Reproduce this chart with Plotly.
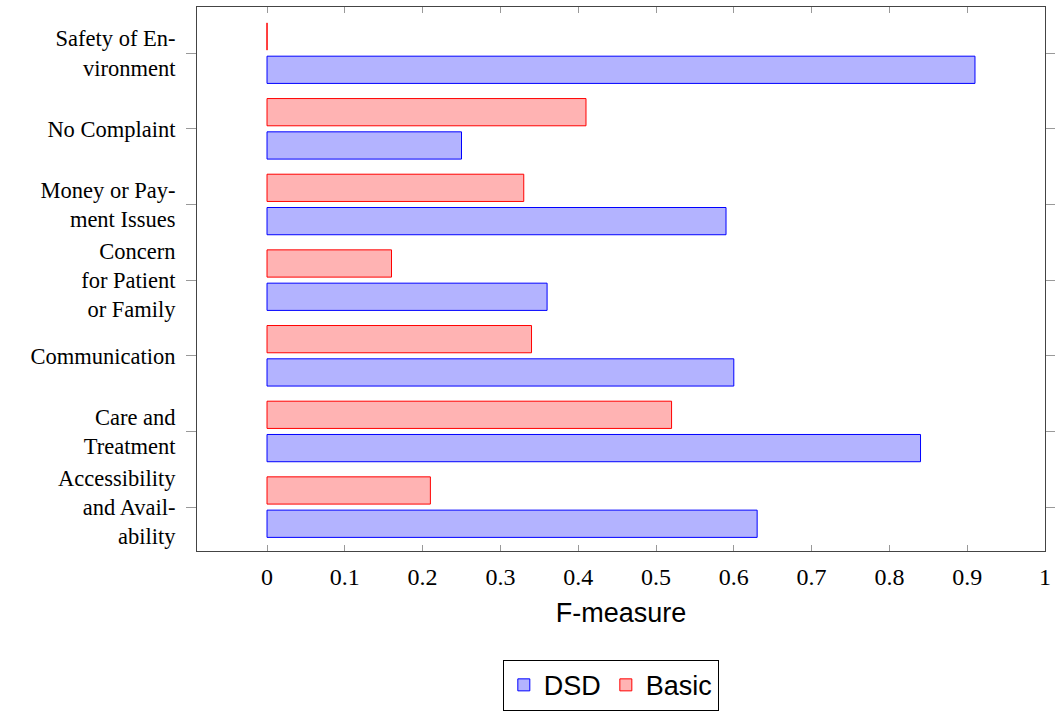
import plotly.graph_objects as go

# Complaint categories, listed from bottom to top of the chart
categories = [
    "Accessibility<br>and Avail-<br>ability",
    "Care and<br>Treatment",
    "Communication",
    "Concern<br>for Patient<br>or Family",
    "Money or Pay-<br>ment Issues",
    "No Complaint",
    "Safety of En-<br>vironment",
]
dsd_scores = [0.63, 0.84, 0.60, 0.36, 0.59, 0.25, 0.91]
basic_scores = [0.21, 0.52, 0.34, 0.16, 0.33, 0.41, 0.0]
x_ticks = [0, 0.1, 0.2, 0.3, 0.4, 0.5, 0.6, 0.7, 0.8, 0.9, 1]
x_tick_text = ["0", "0.1", "0.2", "0.3", "0.4", "0.5", "0.6", "0.7", "0.8", "0.9", "1"]

positions = list(range(len(categories)))

fig = go.Figure()
fig.add_trace(go.Bar(
    name="DSD", y=positions, x=dsd_scores, orientation="h",
    width=0.36, offset=-0.40,
    marker=dict(color="#b3b3ff", line=dict(color="#0000ff", width=1)),
))
fig.add_trace(go.Bar(
    name="Basic", y=positions, x=basic_scores, orientation="h",
    width=0.36, offset=0.04,
    marker=dict(color="#ffb3b3", line=dict(color="#ff0000", width=1)),
))

serif = "Liberation Serif"
sans = "Liberation Sans"

fig.update_layout(
    width=1055, height=711,
    margin=dict(l=197, r=10, t=7, b=160, autoexpand=False),
    plot_bgcolor="white", paper_bgcolor="white",
    barmode="overlay",
    showlegend=True,
    legend=dict(
        orientation="h", x=0.488, xanchor="center", y=-0.2, yanchor="top",
        bordercolor="black", borderwidth=1,
        font=dict(family=sans, size=27, color="black"),
        traceorder="normal", itemwidth=30,
    ),
)
fig.update_xaxes(
    range=[-0.09, 1.0],
    tickvals=x_ticks, ticktext=x_tick_text,
    ticks="inside", ticklen=6, tickcolor="#999999",
    showline=True, linecolor="#444444", linewidth=1, mirror="ticks",
    showgrid=False, zeroline=False, automargin=False,
    ticklabelstandoff=4,
    tickfont=dict(family=serif, size=24, color="black"),
    title=dict(text="F-measure", font=dict(family=sans, size=27, color="black"), standoff=14),
)
fig.update_yaxes(
    range=[-0.58, 6.61],
    tickvals=positions, ticktext=categories,
    ticks="outside", ticklen=10, tickcolor="#999999",
    showline=True, linecolor="#444444", linewidth=1, mirror="ticks",
    showgrid=False, zeroline=False, automargin=False,
    ticklabelstandoff=6,
    tickfont=dict(family=serif, size=22.5, color="black"),
)

fig.write_html("out.html")
